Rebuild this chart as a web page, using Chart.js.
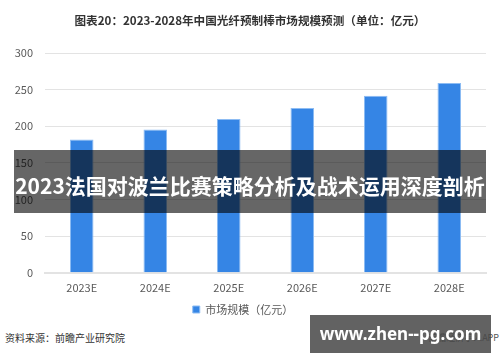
<!DOCTYPE html>
<html>
<head>
<meta charset="utf-8">
<script src="https://cdn.jsdelivr.net/npm/chart.js@4"></script>
<style>
  html, body { margin: 0; padding: 0; background: #fff; }
  #wrap { position: relative; width: 500px; height: 362px; overflow: hidden; font-family: "Noto Sans CJK SC", "Noto Sans", sans-serif; }
  #chartBox { position: absolute; left: 0; top: 0; width: 500px; height: 329px; }
  .title { position: absolute; left: 0; width: 500px; top: 12px; text-align: center; font-size: 11.6px; font-weight: bold; color: #333; }
  .source { position: absolute; left: 5px; top: 330px; font-size: 10px; color: #333; }
  .app { position: absolute; right: 1px; top: 331px; font-size: 9px; color: #555; }
  .band { position: absolute; left: 14px; top: 150px; width: 472px; height: 63px; background: rgba(0,0,0,0.6);
          color: #fff; font-weight: bold; font-size: 21px; line-height: 63px; text-align: center; white-space: nowrap; padding-top: 4px; box-sizing: border-box; }
  .site { position: absolute; left: 310px; top: 315px; width: 181px; height: 38px; background: rgba(70,70,70,0.85);
          color: #fff; font-weight: bold; font-size: 17px; line-height: 38px; text-align: center; white-space: nowrap; font-family: "Noto Sans", "Open Sans", sans-serif; }
</style>
</head>
<body>
<div id="wrap">
  <div id="chartBox"><canvas id="marketChart"></canvas></div>
  <div class="title">图表20：2023-2028年中国光纤预制棒市场规模预测（单位：亿元）</div>
  <div class="source">资料来源：前瞻产业研究院</div>
  <div class="app">前瞻经济学人APP</div>
  <div class="band">2023法国对波兰比赛策略分析及战术运用深度剖析</div>
  <div class="site">www.zhen--pg.com</div>
</div>
<script>
// --- chart data ---
const years = ['2023E', '2024E', '2025E', '2026E', '2027E', '2028E'];
const marketSize = [182, 195.5, 210, 225, 241.5, 259];
const yTicks = [0, 50, 100, 150, 200, 250, 300];

const seriesLabel = '市场规模（亿元）';
const barBlue = '#3585e5';

const ctx = document.getElementById('marketChart').getContext('2d');

new Chart(ctx, {
    type: 'bar',
    data: {
        labels: years,
        datasets: [{
            label: seriesLabel,
            data: marketSize,
            backgroundColor: barBlue,
            borderColor: '#8dbcf3',
            borderWidth: 1,
            categoryPercentage: 1,
            barPercentage: 0.32
        }]
    },
    options: {
        responsive: true,
        maintainAspectRatio: false,
        animation: false,
        layout: { padding: { left: 0, right: 14, top: 53, bottom: 4 } },
        scales: {
            y: {
                min: 0,
                max: 300,
                afterBuildTicks: axis => { axis.ticks = yTicks.map(v => ({ value: v })); },
                afterFit: axis => { axis.width = 45; },
                grid: { color: '#e3e3e3', drawTicks: false },
                border: { display: false },
                ticks: {
                    padding: 12,
                    color: '#595959',
                    font: { family: 'Noto Sans CJK SC', size: 11 }
                }
            },
            x: {
                grid: { display: false },
                border: { color: '#e3e3e3', width: 2 },
                ticks: {
                    padding: 0,
                    color: '#595959',
                    font: { family: 'Noto Sans CJK SC', size: 11 }
                }
            }
        },
        plugins: {
            legend: {
                position: 'bottom',
                labels: {
                    boxWidth: 7,
                    boxHeight: 7,
                    padding: 10,
                    color: '#595959',
                    font: { family: 'Noto Sans CJK SC', size: 11 }
                }
            },
            title: { display: false },
            tooltip: { enabled: false }
        }
    }
});
</script>
</body>
</html>
